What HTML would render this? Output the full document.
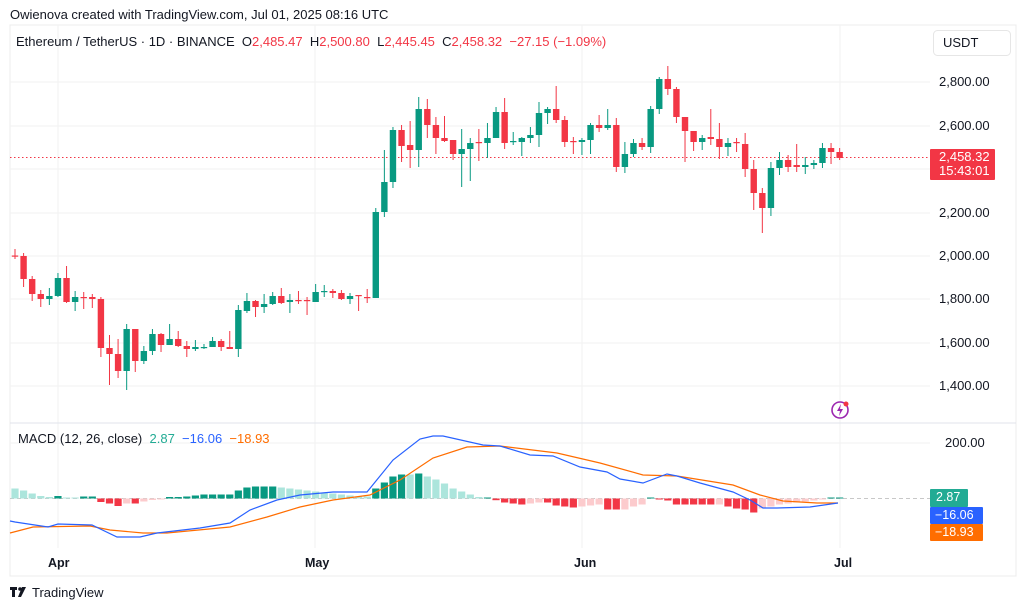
<!DOCTYPE html>
<html><head><meta charset="utf-8"><style>
html,body{margin:0;padding:0;background:#fff;}
body{width:1024px;height:610px;overflow:hidden;position:relative;font-family:"Liberation Sans",sans-serif;color:#131722;}
.t{position:absolute;white-space:nowrap;}
</style></head><body>
<svg id="s" width="1024" height="610" xmlns="http://www.w3.org/2000/svg" style="position:absolute;left:0;top:0">
<rect x="10" y="25" width="1006" height="551" fill="none" stroke="#ececec"/>
<g stroke="#f2f2f2" stroke-width="1">
<line x1="10" x2="930" y1="82" y2="82"/><line x1="10" x2="930" y1="126" y2="126"/><line x1="10" x2="930" y1="169" y2="169"/>
<line x1="10" x2="930" y1="213" y2="213"/><line x1="10" x2="930" y1="256" y2="256"/><line x1="10" x2="930" y1="299" y2="299"/>
<line x1="10" x2="930" y1="343" y2="343"/><line x1="10" x2="930" y1="386" y2="386"/><line x1="10" x2="930" y1="443" y2="443"/>
<line x1="58" x2="58" y1="25" y2="548"/><line x1="315" x2="315" y1="25" y2="548"/><line x1="582" x2="582" y1="25" y2="548"/><line x1="840" x2="840" y1="25" y2="548"/>
</g>
<line x1="10" x2="1016" y1="423" y2="423" stroke="#e0e3eb"/>
<line x1="10" x2="930" y1="157.5" y2="157.5" stroke="#f23645" stroke-dasharray="1.5 2.5"/>
<line x1="10" x2="930" y1="498.5" y2="498.5" stroke="#c8c8c8" stroke-dasharray="4 3"/>
<g id="hist"></g>
<g id="cnd"></g>
<polyline fill="none" stroke="#ff6d00" stroke-width="1.2" points="10,533 33,527 90,526 110,530 143,533 167,533 230,527 267,517 300,507 333,500 370,495 400,480 433,458 467,447 500,446 557,453 600,463 643,475 677,476 733,485 760,495 783,501 817,503 838,503"/>
<polyline fill="none" stroke="#2962ff" stroke-width="1.2" points="10,521 15,522 48,527 58,524 92,525 117,537 140,537 157,533 200,528 230,523 250,510 277,500 300,495 333,492 367,492 393,460 420,439 433,436 443,436 483,445 500,446 530,455 553,456 580,467 607,472 620,479 643,483 667,474 677,476 700,483 733,492 750,500 763,508 777,508 810,507 838,503"/>
<rect x="930" y="149" width="65" height="31" rx="1" fill="#f23645"/>
<rect x="930" y="489" width="38" height="18" rx="1" fill="#22ab94"/>
<rect x="930" y="507" width="53" height="17" rx="1" fill="#2962ff"/>
<rect x="930" y="524" width="53" height="17" rx="1" fill="#ff6d00"/>
<rect x="933.5" y="30.5" width="77" height="25" rx="4" fill="#fff" stroke="#e6e6e6"/>
<circle cx="840" cy="410" r="8" fill="none" stroke="#9c27b0" stroke-width="1.6"/>
<path d="M841,404 L837,411 L840,411 L839,416 L843,409 L840,409 Z" fill="#9c27b0"/>
<circle cx="846" cy="404" r="2.5" fill="#f23645"/>
<g fill="#131722"><rect x="10" y="587" width="7" height="3"/><rect x="12" y="587" width="3" height="10"/><circle cx="20" cy="589" r="1.8"/><path d="M22,587 L26,587 L21,597 L18,597 Z"/></g>
</svg>
<div class="t" style="left:10px;top:7px;font-size:13px">Owienova created with TradingView.com, Jul 01, 2025 08:16 UTC</div>
<div class="t" style="left:16px;top:34px;font-size:13px">Ethereum / TetherUS · 1D · BINANCE &nbsp;O<span style="color:#f23645">2,485.47</span> &nbsp;H<span style="color:#f23645">2,500.80</span> &nbsp;L<span style="color:#f23645">2,445.45</span> &nbsp;C<span style="color:#f23645">2,458.32 &nbsp;−27.15 (−1.09%)</span></div>
<div class="t" style="left:943px;top:35px;font-size:13px">USDT</div>
<div class="t" style="left:939px;top:74px;font-size:13px">2,800.00</div>
<div class="t" style="left:939px;top:118px;font-size:13px">2,600.00</div>
<div class="t" style="left:939px;top:205px;font-size:13px">2,200.00</div>
<div class="t" style="left:939px;top:248px;font-size:13px">2,000.00</div>
<div class="t" style="left:939px;top:291px;font-size:13px">1,800.00</div>
<div class="t" style="left:939px;top:335px;font-size:13px">1,600.00</div>
<div class="t" style="left:939px;top:378px;font-size:13px">1,400.00</div>
<div class="t" style="left:945px;top:435px;font-size:13px">200.00</div>
<div class="t" style="left:939px;top:150px;font-size:13px;color:#fff;line-height:14px">2,458.32<br>15:43:01</div>
<div class="t" style="left:936px;top:490px;font-size:12.5px;color:#fff">2.87</div>
<div class="t" style="left:935px;top:508px;font-size:12.5px;color:#fff">−16.06</div>
<div class="t" style="left:935px;top:525px;font-size:12.5px;color:#fff">−18.93</div>
<div class="t" style="left:18px;top:431px;font-size:13px">MACD (12, 26, close) &nbsp;<span style="color:#22ab94">2.87</span> &nbsp;<span style="color:#2962ff">−16.06</span> &nbsp;<span style="color:#ff6d00">−18.93</span></div>
<div class="t" style="left:48px;top:556px;font-size:12.5px;font-weight:bold">Apr</div>
<div class="t" style="left:305px;top:556px;font-size:12.5px;font-weight:bold">May</div>
<div class="t" style="left:574px;top:556px;font-size:12.5px;font-weight:bold">Jun</div>
<div class="t" style="left:834px;top:556px;font-size:12.5px;font-weight:bold">Jul</div>
<div class="t" style="left:32px;top:585px;font-size:13px">TradingView</div>
<script>
var C=[
['r',255.5,256.5,249,259],['r',256,279,253,287],['r',279,294,276,301],['r',294,299,290,307],['g',296,299,288,305],
['g',278,296,273,297],['r',278,302,266,303],['g',297,302,291,311],['r',297,298,292,309],['r',297,299,294,308],
['r',299,348,297,357],['r',348,354,335,385],['r',354,371,339,378],['g',329,371,324,390],['r',329,361,329,372],
['g',351,361,346,364],['g',334,351,329,355],['r',334,345,333,352],['g',339,345,324,345],['r',339,346,331,347],
['r',346,349,341,357],['g',347,349,340,351],['g',347,348,344,349],['g',341,347,337,347],['r',341,347,339,351],
['r',347,349,331,349],['g',310,349,305,357],['g',301,311,293,313],['r',301,307,300,317],['g',304,307,294,313],
['g',296,304,292,305],['r',296,303,288,304],['g',300,302,294,313],['r',300,301,291,304],['r',300,301,297,315],
['g',292,302,284,302],['g',291,292,285,297],['r',291,293,289,298],['r',293,299,290,300],['g',296,299,293,304],
['r',295,296,295,311],['r',297,298,289,303],['g',212,298,208,298],['g',182,212,150,217],['g',130,182,127,188],
['r',130,146,125,162],['r',145,150,121,168],['g',109,150,97,167],['r',109,125,99,138],['r',125,138,117,154],
['r',138,141,116,142],['r',140,154,140,160],['g',149,154,129,187],['g',143,149,138,181],['r',142,143,129,161],
['g',138,143,123,158],['g',112,138,107,138],['r',112,143,98,149],['g',141,142,132,145],['g',138,142,137,156],
['g',135,138,127,143],['g',113,135,102,147],['g',109,113,107,124],['r',109,120,86,123],['r',120,142,116,147],
['r',141,142,137,154],['g',140,142,138,155],['g',125,140,123,154],['r',125,128,115,132],['g',125,128,109,130],
['r',125,167,118,172],['g',154,167,142,173],['g',143,154,139,157],['r',143,147,138,150],['g',109,147,106,153],
['g',79,109,77,114],['r',79,89,66,95],['r',89,117,87,123],['r',117,131,117,162],['r',131,142,131,151],
['g',138,142,135,150],['r',137,139,109,145],['r',139,147,123,159],['g',143,147,138,156],['r',142,143,138,152],
['r',144,169,133,177],['r',169,193,160,210],['r',193,208,188,233],['g',168,208,162,216],['g',160,168,152,175],
['r',160,167,155,172],['r',165,167,144,172],['g',165,167,157,174],['g',163,165,160,169],['g',148,163,143,168],
['r',148,152,143,164],['r',152,158,148,160]];
var H=[[10,'lg'],[8,'lg'],[5,'lg'],[2.5,'lg'],[1.5,'lg'],[2.5,'g'],[1,'lg'],[1,'lg'],[2,'g'],[2,'g'],
[-3.5,'r'],[-5,'r'],[-7.5,'r'],[-5,'lr'],[-5,'r'],[-3,'lr'],[-1.5,'lr'],[-1,'lr'],[1.5,'g'],[1.5,'g'],
[2,'g'],[3,'g'],[4,'g'],[4,'g'],[4,'g'],[4,'g'],[8,'g'],[11,'g'],[12,'g'],[12,'g'],
[12,'g'],[11,'lg'],[10,'lg'],[9,'lg'],[8,'lg'],[7,'lg'],[6,'lg'],[5,'lg'],[4,'lg'],[3,'lg'],
[2,'lg'],[2,'lg'],[10,'g'],[16,'g'],[22,'g'],[24,'g'],[24,'lg'],[25,'g'],[22,'lg'],[19,'lg'],
[15,'lg'],[10,'lg'],[7,'lg'],[4,'lg'],[1.5,'lg'],[1,'g'],[-1.7,'r'],[-4,'r'],[-5,'r'],[-6,'r'],
[-5,'lr'],[-4,'lr'],[-4,'r'],[-7,'r'],[-8,'r'],[-9,'r'],[-8,'lr'],[-7,'lr'],[-6,'lr'],[-11,'r'],
[-11,'r'],[-11,'lr'],[-8,'lr'],[-6,'lr'],[1,'g'],[-1,'r'],[-2,'r'],[-6,'r'],[-6,'r'],[-6,'r'],
[-6,'r'],[-6,'r'],[-6,'lr'],[-8,'r'],[-10,'r'],[-11,'r'],[-14,'r'],[-10,'lr'],[-8,'lr'],[-6,'lr'],
[-5,'lr'],[-4,'lr'],[-3,'lr'],[-2,'lr'],[-1,'lr'],[1,'g'],[1,'g']];
var col={g:'#089981',r:'#f23645',lg:'#ace5dc',lr:'#fccbcd'};
var ns='http://www.w3.org/2000/svg';
function el(p,t,a){var e=document.createElementNS(ns,t);for(var k in a)e.setAttribute(k,a[k]);p.appendChild(e);}
var cg=document.getElementById('cnd'),hg=document.getElementById('hist');
for(var i=0;i<C.length;i++){var x=15+i*8.59,c=C[i],f=col[c[0]];
el(cg,'rect',{x:x-0.5,y:c[3],width:1,height:Math.max(1,c[4]-c[3]),fill:f});
el(cg,'rect',{x:x-3.2,y:c[1],width:6.4,height:Math.max(1.2,c[2]-c[1]),fill:f});}
for(var i=0;i<H.length;i++){var x=15+i*8.59,v=H[i][0];
el(hg,'rect',{x:x-3.6,y:v>0?498.5-v:498.5,width:7.2,height:Math.abs(v),fill:col[H[i][1]]});}
</script>
</body></html>
